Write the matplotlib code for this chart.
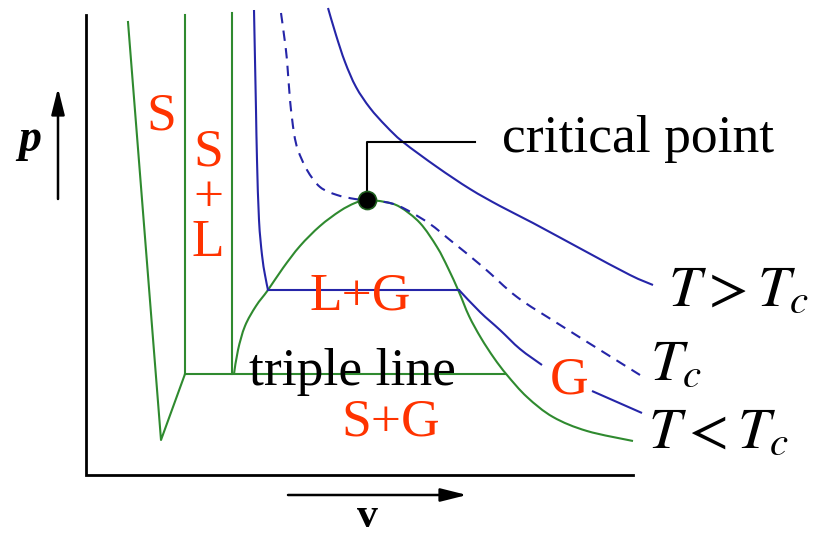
import matplotlib
matplotlib.use("Agg")
import matplotlib.pyplot as plt
from matplotlib.path import Path
from matplotlib.patches import PathPatch
import numpy as np

plt.rcParams['mathtext.fontset'] = 'stix'
SERIF = 'Liberation Serif'

# ---- diagram data (v, p) in diagram units (p grows downward on screen) ----
frame_v = [86, 86, 633]
frame_p = [15, 475, 475]

# solid-phase boundary (melting / sublimation)
melt_v = [128, 161, 185]
melt_p = [22, 440, 374]
solid_liq_v1 = [185, 185]
solid_liq_p1 = [15, 374]
solid_liq_v2 = [232, 232]
solid_liq_p2 = [13, 374]
triple_v = [185, 505]
triple_p = [374, 374]

# saturation dome
dome_v = [234, 238, 245, 256, 268, 283, 300, 320, 340, 355, 367,
          385, 400, 420, 437, 448, 459, 469, 481, 494, 507, 527, 553, 587, 633]
dome_p = [374, 350, 326, 306, 290, 268, 246, 226, 211, 203, 200,
          202, 207, 223, 247, 268, 292, 316, 338, 358, 375, 397, 417, 431, 441]

# isotherm T < Tc
iso_low_v1 = [254, 255, 256, 257, 259, 262, 265, 268]
iso_low_p1 = [10, 60, 110, 160, 220, 255, 275, 290]
iso_low_vh = [268, 459]
iso_low_ph = [290, 290]
iso_low_v2 = [459, 480, 500, 520, 542]
iso_low_p2 = [290, 312, 330, 349, 365]
iso_low_v3 = [592, 642]
iso_low_p3 = [391, 413]

# critical isotherm
iso_c_v = [281, 284, 287, 290, 294, 298, 307, 320, 337, 355, 367,
           390, 407, 430, 450, 483, 517, 557, 600, 640]
iso_c_p = [13, 35, 60, 100, 133, 150, 170, 187, 195, 199, 200,
           203, 210, 224, 240, 267, 297, 323, 350, 375]

# isotherm T > Tc
iso_high_v = [328, 336, 345, 356, 370, 386, 403, 437, 470, 500, 533, 583, 630, 653]
iso_high_p = [8, 35, 62, 87, 108, 126, 142, 167, 189, 206, 223, 250, 275, 285]

crit_v, crit_p = 367, 200
leader_v = [367, 367, 475]
leader_p = [200, 142, 142]

GREEN = '#2f8a2f'
BLUE = '#2525a8'
RED = '#ff3300'


def smooth_path(xs, ys):
    """Cubic Bezier path through the given points (Catmull-Rom tangents)."""
    P = np.column_stack([xs, ys]).astype(float)
    verts = [P[0]]
    codes = [Path.MOVETO]
    n = len(P)
    for i in range(n - 1):
        p0 = P[i - 1] if i > 0 else P[i]
        p1, p2 = P[i], P[i + 1]
        p3 = P[i + 2] if i + 2 < n else P[i + 1]
        c1 = p1 + (p2 - p0) / 6.0
        c2 = p2 - (p3 - p1) / 6.0
        verts += [c1, c2, p2]
        codes += [Path.CURVE4] * 3
    return Path(verts, codes)


fig = plt.figure(figsize=(8.21, 5.39), dpi=100)
ax = fig.add_axes([0, 0, 1, 1])
ax.set_xlim(0, 821)
ax.set_ylim(539, 0)
ax.axis('off')

ax.plot(frame_v, frame_p, color='black', lw=2.0, solid_joinstyle='miter')

for xs, ys in [(melt_v, melt_p), (solid_liq_v1, solid_liq_p1),
               (solid_liq_v2, solid_liq_p2), (triple_v, triple_p)]:
    ax.plot(xs, ys, color=GREEN, lw=1.5)
ax.add_patch(PathPatch(smooth_path(dome_v, dome_p), fill=False, ec=GREEN, lw=1.5))

ax.plot(iso_low_vh, iso_low_ph, color=BLUE, lw=1.5)
for xs, ys in [(iso_low_v1, iso_low_p1), (iso_low_v2, iso_low_p2),
               (iso_low_v3, iso_low_p3), (iso_high_v, iso_high_p)]:
    ax.add_patch(PathPatch(smooth_path(xs, ys), fill=False, ec=BLUE, lw=1.5))
ax.add_patch(PathPatch(smooth_path(iso_c_v, iso_c_p), fill=False, ec=BLUE,
                       lw=1.5, linestyle=(0, (5, 3.5))))

ax.plot(leader_v, leader_p, color='black', lw=1.5)
ax.plot([crit_v], [crit_p], 'o', color='black', ms=13, mec='#1e5e1e', mew=1.2, zorder=5)

# axis arrows
ax.annotate('', xy=(58, 88), xytext=(58, 199),
            arrowprops=dict(arrowstyle='-|>,head_length=0.8,head_width=0.2',
                            lw=1.8, color='black', mutation_scale=20, shrinkA=0, shrinkB=0))
ax.annotate('', xy=(467, 495), xytext=(288, 495),
            arrowprops=dict(arrowstyle='-|>,head_length=0.8,head_width=0.2',
                            lw=1.8, color='black', mutation_scale=20, shrinkA=0, shrinkB=0))
ax.text(30, 140, 'p', fontsize=33, fontfamily=SERIF, fontweight='bold',
        fontstyle='italic', ha='center', va='center')
ax.text(367, 527, 'v', fontsize=30, fontfamily=SERIF, fontweight='bold',
        ha='center', va='baseline')

# region labels
rk = dict(fontsize=38.5, fontfamily=SERIF, color=RED, ha='center', va='center')
ax.text(161, 116, 'S', **rk)
ax.text(208, 198, 'S\n+\nL', linespacing=0.92, multialignment='center', **rk)
ax.text(360, 296, 'L+G', **rk)
ax.text(391, 423, 'S+G', **rk)
ax.text(569, 380, 'G', **rk)

ax.text(352, 385, 'triple line', fontsize=38.5, fontfamily=SERIF, color='black',
        ha='center', va='baseline')
ax.text(502, 152, 'critical point', fontsize=38.5, fontfamily=SERIF, color='black',
        ha='left', va='baseline')

ax.text(668, 306, r'$T > T_c$', fontsize=42, ha='left', va='baseline')
ax.text(650, 380, r'$T_c$', fontsize=42, ha='left', va='baseline')
ax.text(648, 448, r'$T < T_c$', fontsize=42, ha='left', va='baseline')

fig.savefig('out.png', dpi=100)
